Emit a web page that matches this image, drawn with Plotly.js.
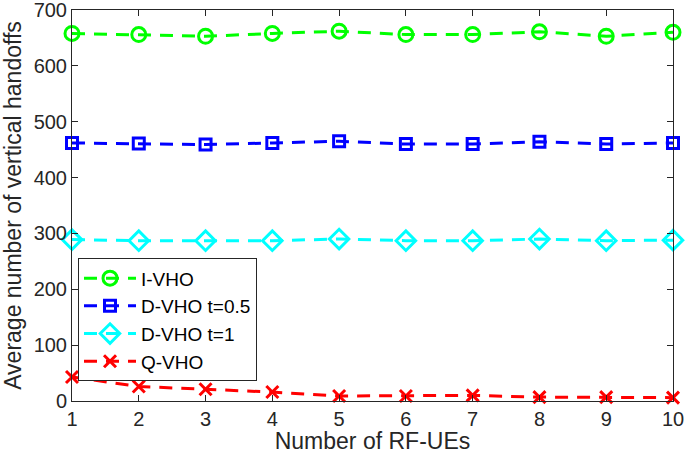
<!DOCTYPE html>
<html><head><meta charset="utf-8">
<script src="https://cdn.plot.ly/plotly-3.0.1.min.js"></script>
<style>html,body{margin:0;padding:0;background:#fff}#chart{width:685px;height:454px}</style>
</head><body><div id="chart"></div>
<script>
const xValues = [1,2,3,4,5,6,7,8,9,10];
const seriesNames = ["I-VHO","D-VHO t=0.5","D-VHO t=1","Q-VHO"];
const iVHO = [658,656,653,658,662,656,656,661,653,660];
const dVHO05 = [462,461,459,462,465,460,460,464,460,462];
const dVHO1 = [289,287,287,287,290,287,287,290,287,288];
const qVHO = [43,26,21,16,9,9,10,7,7,6];
const xTicks = [1,2,3,4,5,6,7,8,9,10];
const yTicks = [0,100,200,300,400,500,600,700];

const FONT = 'Liberation Sans, Arial, sans-serif';
const styles = [
  {color:'#00ff00', symbol:'circle-open', size:14},
  {color:'#0000ff', symbol:'square-open', size:11},
  {color:'#00ffff', symbol:'diamond-open', size:15},
  {color:'#ff0000', symbol:'x-thin-open', size:12}
];
const allY = [iVHO, dVHO05, dVHO1, qVHO];
const traces = allY.map((y,i)=>({
  x: xValues, y: y, name: seriesNames[i], type:'scatter', mode:'lines+markers',
  line:{color:styles[i].color, width:3, dash:'13px,9px'},
  marker:{color:styles[i].color, symbol:styles[i].symbol, size:styles[i].size,
          line:{color:styles[i].color, width:3}},
  cliponaxis:false
}));

const axisCommon = {
  showgrid:false, zeroline:false, showline:true, linecolor:'#262626', linewidth:1,
  mirror:'ticks', ticks:'inside', ticklen:6, tickcolor:'#262626',
  ticklabeloverflow:'allow',
  tickfont:{family:FONT, size:20, color:'#262626'}
};
const layout = {
  width:685, height:454,
  margin:{l:72, r:12, t:10, b:53},
  paper_bgcolor:'#fff', plot_bgcolor:'#fff',
  showlegend:true,
  xaxis: Object.assign({}, axisCommon, {
    range:[1,10], tickvals:xTicks, ticktext:xTicks.map(String),
    title:{text:'Number of RF-UEs', standoff:0, font:{family:FONT, size:23, color:'#262626'}}
  }),
  yaxis: Object.assign({}, axisCommon, {
    range:[0,700], tickvals:yTicks, ticktext:yTicks.map(String),
    title:{text:'Average number of vertical handoffs', standoff:8, font:{family:FONT, size:23, color:'#262626'}}
  }),
  legend:{x:0.01, y:0.365, xanchor:'left', yanchor:'top',
    bgcolor:'#fff', bordercolor:'#262626', borderwidth:1,
    font:{family:FONT, size:19, color:'#000'},
    tracegroupgap:0, itemwidth:52}
};
Plotly.newPlot('chart', traces, layout, {staticPlot:true, displayModeBar:false});
</script></body></html>
